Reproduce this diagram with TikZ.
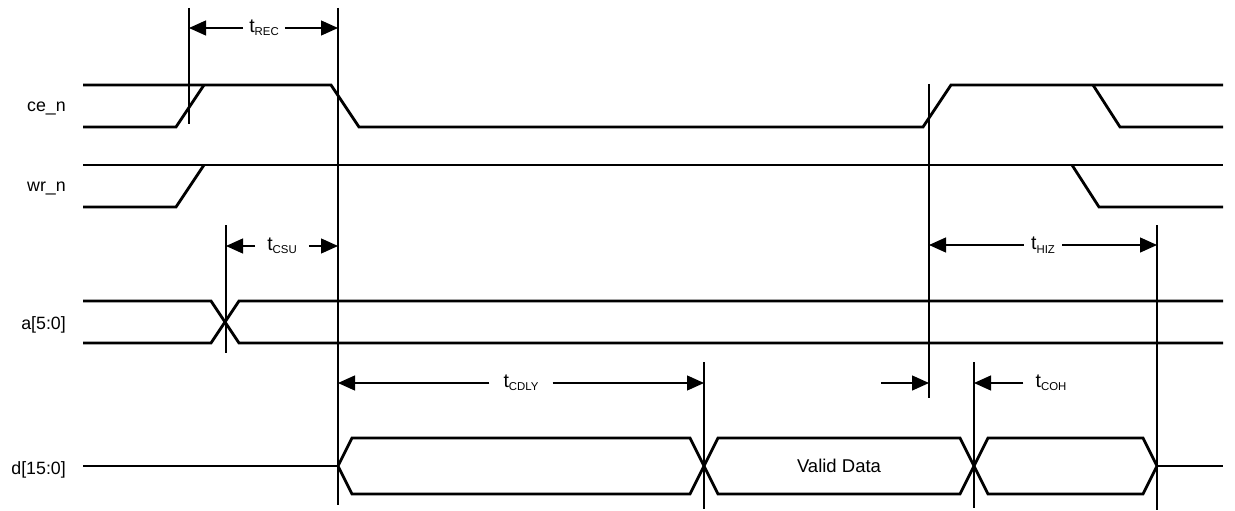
\documentclass[tikz,border=0pt]{standalone}
\usepackage{fontspec}
\setmainfont{Liberation Sans}
\usetikzlibrary{arrows.meta}
\newcommand\tsubl[1]{t\raisebox{-3.4pt}{\fontsize{11.4}{12}\selectfont #1}}
\begin{document}
\begin{tikzpicture}[x=1pt,y=-1pt,
  sig/.style={line width=2.8pt, line join=miter},
  guide/.style={line width=1.2pt},
  dimarrow/.style={line width=1.3pt, -{Triangle[length=17pt,width=15pt]}},
  siglbl/.style={font=\fontsize{17.8}{21}\selectfont, inner sep=0pt, anchor=base east},
  tlbl/.style={font=\fontsize{19.5}{22}\selectfont, inner ysep=0pt, inner xsep=6pt}]
\useasboundingbox (0,0) rectangle (1235,511);

% signal names
\node[siglbl] (nce) at (66,111) {ce\_n};
\node[siglbl] (nwr) at (66,191) {wr\_n};
\node[siglbl] (na)  at (66,329) {a[5:0]};
\node[siglbl] (nd)  at (66,474) {d[15:0]};

% ce_n
\draw[sig] (83,127) -- (176,127) -- (204,85);
\draw[sig] (83,85) -- (331,85) -- (359,127) -- (923,127) -- (951,85) -- (1223,85);
\draw[sig] (1093,85) -- (1120,127) -- (1223,127);

% wr_n
\draw[sig] (83,165) -- (1223,165);
\draw[sig] (83,207) -- (176,207) -- (204,165);
\draw[sig] (1072,165) -- (1099,207) -- (1223,207);

% a[5:0]
\draw[sig] (83,301) -- (211,301) -- (239,343) -- (1223,343);
\draw[sig] (83,343) -- (211,343) -- (239,301) -- (1223,301);

% d[15:0]
\draw[sig] (83,466) -- (338,466);
\draw[sig] (338,466) -- (352,438) -- (690,438) -- (704,466) -- (690,494) -- (352,494) -- cycle;
\draw[sig] (704,466) -- (718,438) -- (960,438) -- (974,466) -- (960,494) -- (718,494) -- cycle;
\draw[sig] (974,466) -- (988,438) -- (1143,438) -- (1157,466) -- (1143,494) -- (988,494) -- cycle;
\draw[sig] (1157,466) -- (1223,466);
\node[font=\fontsize{18.5}{22}\selectfont, inner sep=0pt, anchor=base] (vd) at (839,472.5) {Valid Data};

% guide lines
\coordinate (g1t) at (189,8);   \coordinate (g1b) at (189,124);
\coordinate (g2t) at (338,8);   \coordinate (g2b) at (338,505);
\coordinate (g3t) at (226,225); \coordinate (g3b) at (226,353);
\coordinate (g4t) at (929,84);  \coordinate (g4b) at (929,398);
\coordinate (g5t) at (1157,225);\coordinate (g5b) at (1157,510);
\coordinate (g6t) at (704,362); \coordinate (g6b) at (704,509);
\coordinate (g7t) at (974,362); \coordinate (g7b) at (974,508);
\foreach \g in {1,...,7} { \draw[guide] (g\g t) -- (g\g b); }

% t_REC
\node[tlbl] (trec) at (264,28) {\tsubl{REC}};
\coordinate (recL) at (189,28); \coordinate (recR) at (338,28);
\draw[dimarrow] (trec) -- (recL);
\draw[dimarrow] (trec) -- (recR);

% t_CSU
\node[tlbl, inner xsep=12pt] (tcsu) at (282,246) {\tsubl{CSU}};
\coordinate (csuL) at (226,246); \coordinate (csuR) at (338,246);
\draw[dimarrow] (tcsu) -- (csuL);
\draw[dimarrow] (tcsu) -- (csuR);

% t_HIZ
\node[tlbl, inner xsep=7pt] (thiz) at (1043,245) {\tsubl{HIZ}};
\coordinate (hizL) at (929,245); \coordinate (hizR) at (1157,245);
\draw[dimarrow] (thiz) -- (hizL);
\draw[dimarrow] (thiz) -- (hizR);

% t_CDLY
\node[tlbl, inner xsep=14pt] (tcdly) at (521,383) {\tsubl{CDLY}};
\coordinate (cdlyL) at (338,383); \coordinate (cdlyR) at (704,383);
\draw[dimarrow] (tcdly) -- (cdlyL);
\draw[dimarrow] (tcdly) -- (cdlyR);

% t_COH
\node[tlbl, inner xsep=12pt] (tcoh) at (1051,383) {\tsubl{COH}};
\coordinate (cohL) at (974,383);
\coordinate (cohA) at (881,383); \coordinate (cohB) at (929,383);
\draw[dimarrow] (tcoh) -- (cohL);
\draw[dimarrow] (cohA) -- (cohB);
\end{tikzpicture}
\end{document}
